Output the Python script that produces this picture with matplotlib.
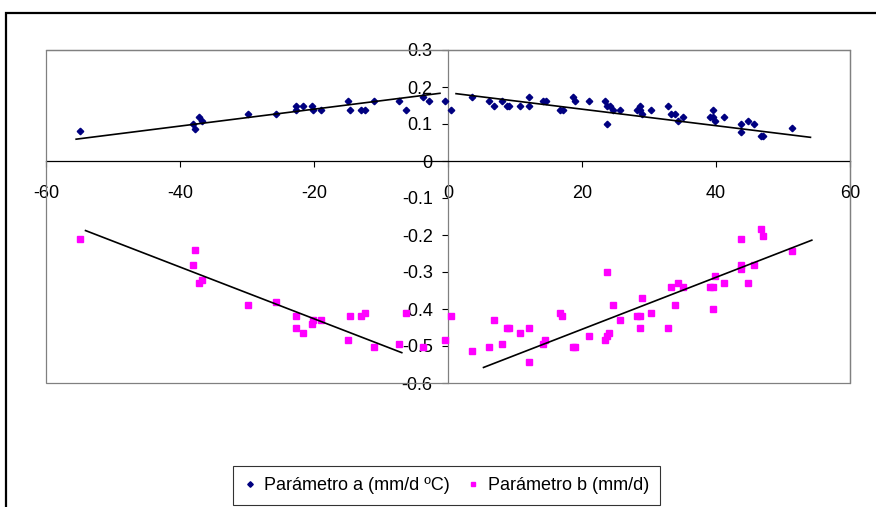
import numpy as np
import matplotlib.pyplot as plt
from matplotlib.patches import Rectangle

plt.rcParams['font.family'] = ['Liberation Sans', 'DejaVu Sans']

# parameter a, stations with negative x
xa_neg = [-55.0, -38.0, -37.8, -37.2, -36.7, -29.8, -25.7, -22.7, -22.7, -21.6, -20.3, -20.1,
          -19.0, -14.9, -14.6, -13.0, -12.4, -11.0, -7.3, -6.2, -3.7, -2.9, -0.4]
ya_neg = [0.080, 0.100, 0.087, 0.118, 0.107, 0.128, 0.128, 0.148, 0.138, 0.148, 0.148, 0.138,
          0.138, 0.162, 0.138, 0.138, 0.138, 0.162, 0.162, 0.138, 0.172, 0.162, 0.162]
# parameter a, stations with positive x
xa_pos = [0.4, 3.6, 6.1, 6.9, 8.0, 8.8, 9.1, 10.7, 12.1, 12.1, 14.2, 14.6, 16.7, 17.1, 18.6, 18.9,
          21.1, 23.5, 23.8, 24.2, 23.8, 24.6, 25.7, 28.2, 28.7, 28.7, 29.0, 30.3, 32.8, 33.3,
          33.9, 34.4, 35.0, 39.1, 39.6, 39.6, 39.9, 41.2, 43.7, 43.7, 44.8, 45.6, 46.7, 47.0, 51.3]
ya_pos = [0.138, 0.172, 0.162, 0.148, 0.162, 0.148, 0.148, 0.148, 0.172, 0.148, 0.162, 0.162,
          0.138, 0.138, 0.174, 0.162, 0.162, 0.162, 0.148, 0.148, 0.099, 0.138, 0.138, 0.138,
          0.148, 0.138, 0.128, 0.138, 0.148, 0.128, 0.128, 0.108, 0.118, 0.118, 0.138, 0.118,
          0.108, 0.118, 0.099, 0.078, 0.108, 0.099, 0.068, 0.068, 0.088]

# parameter b
xb_neg = [-54.9, -37.8, -38.0, -37.2, -36.7, -29.8, -25.7, -22.7, -22.7, -21.7, -20.3, -20.1,
          -19.0, -14.9, -14.6, -13.0, -12.4, -11.0, -7.3, -6.2, -3.7, -0.4]
yb_neg = [-0.212, -0.241, -0.281, -0.331, -0.321, -0.390, -0.380, -0.420, -0.450, -0.464, -0.440,
          -0.430, -0.430, -0.484, -0.420, -0.420, -0.410, -0.504, -0.494, -0.410, -0.504, -0.484]
xb_pos = [0.4, 3.6, 6.1, 6.9, 8.0, 8.8, 9.1, 10.7, 12.1, 12.1, 14.2, 14.5, 16.7, 17.0, 18.6, 18.9,
          21.1, 23.5, 23.8, 24.1, 23.8, 24.6, 25.7, 28.2, 28.7, 28.7, 29.0, 30.3, 32.8, 33.3,
          33.9, 34.4, 35.0, 39.1, 39.6, 39.6, 39.9, 41.2, 43.7, 43.7, 43.7, 44.8, 45.6, 46.7,
          47.0, 51.3]
yb_pos = [-0.419, -0.514, -0.504, -0.430, -0.494, -0.450, -0.450, -0.464, -0.450, -0.543, -0.494,
          -0.484, -0.410, -0.419, -0.504, -0.504, -0.474, -0.484, -0.474, -0.464, -0.301, -0.390,
          -0.430, -0.419, -0.419, -0.450, -0.370, -0.410, -0.450, -0.341, -0.390, -0.331, -0.341,
          -0.341, -0.400, -0.341, -0.312, -0.331, -0.212, -0.282, -0.292, -0.331, -0.282, -0.183,
          -0.203, -0.242]

# trend lines (end points)
trend_a_neg = ([-55.5, -1.2], [0.059, 0.183])
trend_a_pos = ([1.2, 54.1], [0.182, 0.064])
trend_b_neg = ([-54.1, -6.9], [-0.188, -0.518])
trend_b_pos = ([5.3, 54.3], [-0.558, -0.214])

label_a = 'Parámetro a (mm/d \u00baC)'
label_b = 'Parámetro b (mm/d)'

xticks = [-60, -40, -20, 0, 20, 40, 60]
yticks = [0.3, 0.2, 0.1, 0, -0.1, -0.2, -0.3, -0.4, -0.5, -0.6]

navy = '#000080'
mag = '#FF00FF'

fig = plt.figure(figsize=(8.76, 5.07), dpi=100)
ax = fig.add_axes([46 / 876, 1 - 383 / 507, 804 / 876, 333 / 507])

ax.plot(xa_neg + xa_pos, ya_neg + ya_pos, 'D', color=navy, ms=3.3, mec=navy, ls='none',
        label=label_a, zorder=3)
ax.plot(xb_neg + xb_pos, yb_neg + yb_pos, 's', color=mag, ms=3.8, mec=mag, ls='none',
        label=label_b, zorder=3)
for tx, ty in (trend_a_neg, trend_a_pos, trend_b_neg, trend_b_pos):
    ax.plot(tx, ty, color='black', lw=1.2, zorder=4)

ax.set_xlim(-60, 60)
ax.set_ylim(-0.6, 0.3)
ax.set_xticks(xticks)
ax.set_xticklabels([str(v) for v in xticks])
ax.set_yticks(yticks)
ax.set_yticklabels(['0' if v == 0 else ('%.1f' % v) for v in yticks])

ax.spines['left'].set_position(('data', 0))
ax.spines['bottom'].set_position(('data', 0))
ax.spines['left'].set_color('#808080')
ax.spines['bottom'].set_color('black')
ax.spines['top'].set_color('#808080')
ax.spines['right'].set_color('#808080')
for s in ax.spines.values():
    s.set_linewidth(0.9)
ax.add_patch(Rectangle((0, 0), 1, 1, transform=ax.transAxes, fill=False,
                       ec='#808080', lw=0.9, zorder=5, clip_on=False))

ax.tick_params(axis='x', direction='out', length=4, width=0.8, pad=13, labelsize=13, color='black')
ax.tick_params(axis='y', direction='out', length=4, width=0.8, pad=7, labelsize=13, color='black')

# outer chart frame
fig.add_artist(Rectangle((5.5 / 876, -0.1), 1.2, 1.1 - 13 / 507, transform=fig.transFigure,
                         fill=False, ec='black', lw=1.6))

leg = fig.legend(loc='center', bbox_to_anchor=(446.5 / 876, 1 - 485.5 / 507), ncol=2,
                 frameon=True, fancybox=False, fontsize=13, handlelength=0.6,
                 handletextpad=0.5, columnspacing=1.0, borderpad=0.6, markerscale=0.85)
leg.get_frame().set_edgecolor('black')
leg.get_frame().set_linewidth(0.8)

fig.savefig('out.png', dpi=100)
